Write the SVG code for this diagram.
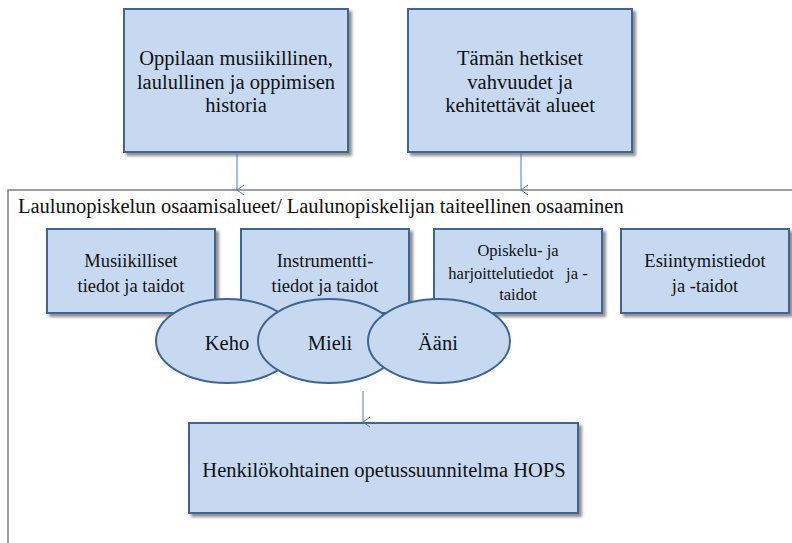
<svg xmlns="http://www.w3.org/2000/svg" width="792" height="543" viewBox="0 0 792 543">
  <defs>
    <filter id="shadow" x="-10%" y="-10%" width="130%" height="130%">
      <feGaussianBlur in="SourceAlpha" stdDeviation="1.5"/>
      <feOffset dx="2.5" dy="2.5" result="b"/>
      <feComponentTransfer><feFuncA type="linear" slope="0.45"/></feComponentTransfer>
      <feMerge><feMergeNode/><feMergeNode in="SourceGraphic"/></feMerge>
    </filter>
    <marker id="open-arrow" markerWidth="12" markerHeight="12" refX="6" refY="10" orient="auto-start-reverse" markerUnits="userSpaceOnUse" viewBox="0 0 12 12">
      <path d="M1,3 L6,10 L11,3" fill="none" stroke="#4a7ebb" stroke-width="1"/>
    </marker>
  </defs>
  <style>
    .box { fill: #c6d9f1; stroke: #3f6591; stroke-width: 2; filter: url(#shadow); }
    .oval { fill: #c6d9f1; stroke: #3f6591; stroke-width: 2; }
    text { font-family: 'Liberation Serif', 'Times New Roman', serif; fill: #111; text-anchor: middle; }
    .conn { stroke: #4a7ebb; stroke-width: 1; fill: none; marker-end: url(#open-arrow); }
    .frame { fill: none; stroke: #808080; stroke-width: 1.5; }
  </style>
  <rect width="792" height="543" fill="#ffffff"/>

  <!-- enclosing frame (runs past the right and bottom edges) -->
  <g id="frame">
    <rect class="frame" x="8" y="190" width="800" height="370"/>
    <text x="18" y="213" font-size="20.5" style="text-anchor:start">Laulunopiskelun osaamisalueet/ Laulunopiskelijan taiteellinen osaaminen</text>
  </g>

  <g id="history">
    <rect class="box" x="124" y="9" width="224" height="143"/>
    <text font-size="20.5"><tspan x="236" y="65">Oppilaan musiikillinen,</tspan><tspan x="236" y="89">laulullinen ja oppimisen</tspan><tspan x="236" y="112">historia</tspan></text>
  </g>

  <g id="strengths">
    <rect class="box" x="408" y="9" width="224" height="143"/>
    <text font-size="20.5"><tspan x="520" y="65">Tämän hetkiset</tspan><tspan x="520" y="89">vahvuudet ja</tspan><tspan x="520" y="112">kehitettävät alueet</tspan></text>
  </g>

  <g id="musical">
    <rect class="box" x="47" y="229" width="168" height="84"/>
    <text font-size="18.5"><tspan x="131" y="267">Musiikilliset</tspan><tspan x="131" y="292">tiedot ja taidot</tspan></text>
  </g>

  <g id="instrument">
    <rect class="box" x="241" y="229" width="168" height="84"/>
    <text font-size="18.5"><tspan x="325" y="267">Instrumentti-</tspan><tspan x="325" y="292">tiedot ja taidot</tspan></text>
  </g>

  <g id="study">
    <rect class="box" x="434" y="229" width="168" height="84"/>
    <text font-size="16.5"><tspan x="518" y="256">Opiskelu- ja</tspan><tspan x="518" y="279" xml:space="preserve">harjoittelutiedot   ja -</tspan><tspan x="518" y="300">taidot</tspan></text>
  </g>

  <g id="performance">
    <rect class="box" x="621" y="229" width="168" height="84"/>
    <text font-size="18.5"><tspan x="705" y="267">Esiintymistiedot</tspan><tspan x="705" y="292">ja -taidot</tspan></text>
  </g>

  <g id="body">
    <ellipse class="oval" cx="227" cy="341" rx="71" ry="42"/>
    <text x="227" y="350" font-size="20.5">Keho</text>
  </g>

  <g id="mind">
    <ellipse class="oval" cx="329" cy="341" rx="71" ry="42"/>
    <text x="330" y="350" font-size="20.5">Mieli</text>
  </g>

  <g id="voice">
    <ellipse class="oval" cx="439" cy="341" rx="71" ry="42"/>
    <text x="438" y="350" font-size="20.5">Ääni</text>
  </g>

  <g id="hops">
    <rect class="box" x="189" y="423" width="389" height="90"/>
    <text x="384" y="477" font-size="20.5">Henkilökohtainen opetussuunnitelma HOPS</text>
  </g>

  <g id="connectors">
    <line class="conn" x1="237" y1="153" x2="237" y2="190"/>
    <line class="conn" x1="521" y1="153" x2="521" y2="190"/>
    <line class="conn" x1="363" y1="391" x2="363" y2="422"/>
  </g>
</svg>
